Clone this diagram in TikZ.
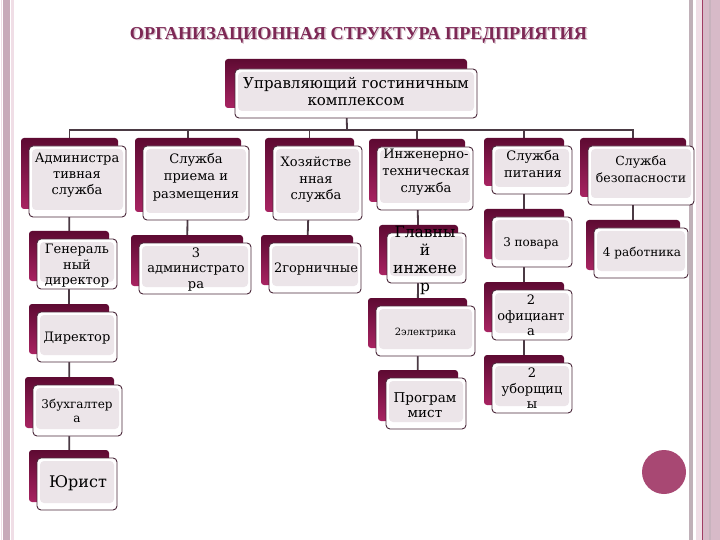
\documentclass[tikz,border=0pt]{standalone}
\usepackage{fontspec}
\setmainfont{DejaVu Serif}
\newfontfamily\titlefont{Liberation Serif}
\pgfdeclarelayer{conns}
\pgfdeclarelayer{back}
\pgfsetlayers{back,conns,main}
\definecolor{lineC}{RGB}{75,58,68}
\definecolor{edgeC}{RGB}{74,40,58}
\definecolor{innerC}{RGB}{236,229,233}
\definecolor{shTop}{RGB}{94,10,50}
\definecolor{shBot}{RGB}{168,36,98}
\definecolor{titleC}{RGB}{125,40,85}
\definecolor{titleSh}{RGB}{215,195,205}
\definecolor{stripC}{RGB}{200,170,185}
\definecolor{stripL}{RGB}{240,222,230}
\definecolor{stripR}{RGB}{215,186,200}
\definecolor{stripG}{RGB}{192,176,184}
\definecolor{stripD}{RGB}{160,60,100}
\definecolor{dotC}{RGB}{168,72,115}
\tikzset{
  shbox/.style={rounded corners=3pt, top color=shTop, bottom color=shBot, draw=none, inner sep=0pt},
  frbox/.style={rounded corners=4pt, fill=white, draw=edgeC, line width=0.9pt, inner sep=0pt,
     path picture={\fill[innerC] ([xshift=3pt,yshift=-3pt]path picture bounding box.north west) rectangle ([xshift=-3pt,yshift=7pt]path picture bounding box.south east);}},
  txt/.style={align=center, inner sep=0pt, text=black},
  conn/.style={draw=lineC, line width=1.8pt}
}
% name, x1, y1, x2, y2 of front box
\newcommand\obox[5]{%
  \node[shbox, minimum width={#4-#2}, minimum height={#5-#3}] (s#1) at ({(#2+#4)/2-8},{(#3+#5)/2-8}) {};
  \node[frbox, minimum width={#4-#2}, minimum height={#5-#3}] (#1) at ({(#2+#4)/2},{(#3+#5)/2}) {};
}
\newcommand\fs[2]{\fontsize{#1}{#2}\selectfont}
\begin{document}
\begin{tikzpicture}[x=1pt,y=-1pt]
\useasboundingbox (0,0) rectangle (720,540);
\begin{pgfonlayer}{back}
\fill[white] (0,0) rectangle (720,540);
% page borders
\fill[stripL] (0.5,0) rectangle (2,540);
\fill[stripC] (3,0) rectangle (9.5,540);
\fill[stripL] (10.5,0) rectangle (14,540);
\fill[stripG] (689,0) rectangle (692.5,540);
\fill[stripL] (696,0) rectangle (702,540);
\fill[stripD] (701.8,0) rectangle (703,540);
\fill[stripR] (703,0) rectangle (720,540);
\fill[stripG!70!stripR] (709,0) rectangle (711,540);
\end{pgfonlayer}
% title
\node[txt, text=titleSh] (titlesh) at (359.8,36.0) {\resizebox{457pt}{!}{\titlefont\bfseries\fs{16}{18}ОРГАНИЗАЦИОННАЯ СТРУКТУРА ПРЕДПРИЯТИЯ}};
\node[txt, text=titleC] (title) at (358.5,35.0) {\resizebox{457pt}{!}{\titlefont\bfseries\fs{16}{18}ОРГАНИЗАЦИОННАЯ СТРУКТУРА ПРЕДПРИЯТИЯ}};
% top node (offset 10)
\node[shbox, minimum width=242, minimum height=49] (stop) at (346,83.5) {};
\node[frbox, minimum width=242, minimum height=49] (top) at (356,93.5) {};
% level 1
\obox{adm}{29}{146}{126}{217}
\obox{priem}{143}{146}{249}{220}
\obox{hoz}{273}{146}{362}{220}
\obox{inzh}{377}{147}{473}{210}
\obox{pit}{492}{146}{572}{194}
\obox{bez}{588}{146}{694}{205}
% level 2
\obox{gendir}{37}{239}{117}{289}
\obox{adm3}{139}{243}{251}{294}
\obox{gorn}{269}{243}{361}{293}
\obox{glinzh}{387}{233}{466}{283}
\obox{povar}{492}{217}{572}{267}
\obox{rab4}{594}{228}{688}{278}
% level 3+
\obox{dir}{37}{312}{117}{362}
\obox{buh}{33}{385}{122}{436}
\obox{yur}{37}{458}{117}{510}
\obox{elek}{376}{306}{475}{356}
\obox{prog}{386}{378}{466}{429}
\obox{ofic}{492}{290}{572}{340}
\obox{ubor}{492}{363}{572}{413}
% connectors
\begin{pgfonlayer}{conns}
\coordinate (bus) at (347,130);
\draw[conn] (stop.center) -- (bus);
\foreach \n in {adm,priem,hoz,inzh,pit,bez}{\draw[conn] (s\n.center) |- (bus);}
\draw[conn] (sadm.center) -- (sgendir.center) -- (sdir.center) -- (sbuh.center) -- (syur.center);
\draw[conn] (spriem.center) -- (sadm3.center);
\draw[conn] (shoz.center) -- (sgorn.center);
\draw[conn] (sinzh.center) -- (sglinzh.center) -- (selek.center) -- (sprog.center);
\draw[conn] (spit.center) -- (spovar.center) -- (sofic.center) -- (subor.center);
\draw[conn] (sbez.center) -- (srab4.center);
\end{pgfonlayer}
% texts
\node[txt, font=\fs{15}{17}] (ttop) at (356,92) {Управляющий гостиничным\\комплексом};
\node[txt, font=\fs{13}{16}] (tadm) at (77,175) {Администра\\тивная\\служба};
\node[txt, font=\fs{13}{17.5}] (tpriem) at (196,177) {Служба\\приема и\\размещения};
\node[txt, font=\fs{13}{16.5}] (thoz) at (316,180) {Хозяйстве\\нная\\служба};
\node[txt, font=\fs{13}{17}] (tinzh) at (426,172) {Инженерно-\\техническая\\служба};
\node[txt, font=\fs{13}{17}] (tpit) at (533,164.5) {Служба\\питания};
\node[txt, font=\fs{12.5}{17}] (tbez) at (641,169.5) {Служба\\безопасности};
\node[txt, font=\fs{13}{15.5}] (tgendir) at (77,266) {Генераль\\ный\\директор};
\node[txt, font=\fs{13}{15.5}] (tadm3) at (196,269.5) {3\\администрато\\ра};
\node[txt, font=\fs{13}{16}] (tgorn) at (316,269) {2горничные};
\node[txt, font=\fs{15.5}{17.7}] (tglinzh) at (425,260.5) {Главны\\й\\инжене\\р};
\node[txt, font=\fs{12}{16}] (tpovar) at (531,243) {3 повара};
\node[txt, font=\fs{12}{16}] (trab4) at (642,253) {4 работника};
\node[txt, font=\fs{13}{16}] (tdir) at (77,338) {Директор};
\node[txt, font=\fs{12}{14}] (tbuh) at (77,411) {3бухгалтер\\а};
\node[txt, font=\fs{16}{18}] (tyur) at (78,483) {Юрист};
\node[txt, font=\fs{10}{12}] (telek) at (425.5,333) {2электрика};
\node[txt, font=\fs{13.5}{15}] (tprog) at (425,405.5) {Програм\\мист};
\node[txt, font=\fs{13}{15.5}] (tofic) at (531,315.5) {2\\официант\\а};
\node[txt, font=\fs{13}{15.5}] (tubor) at (532,388.5) {2\\уборщиц\\ы};
% decorative dot
\node[circle, fill=dotC, minimum size=44pt, inner sep=0pt] (dot) at (664,472) {};
\end{tikzpicture}
\end{document}
